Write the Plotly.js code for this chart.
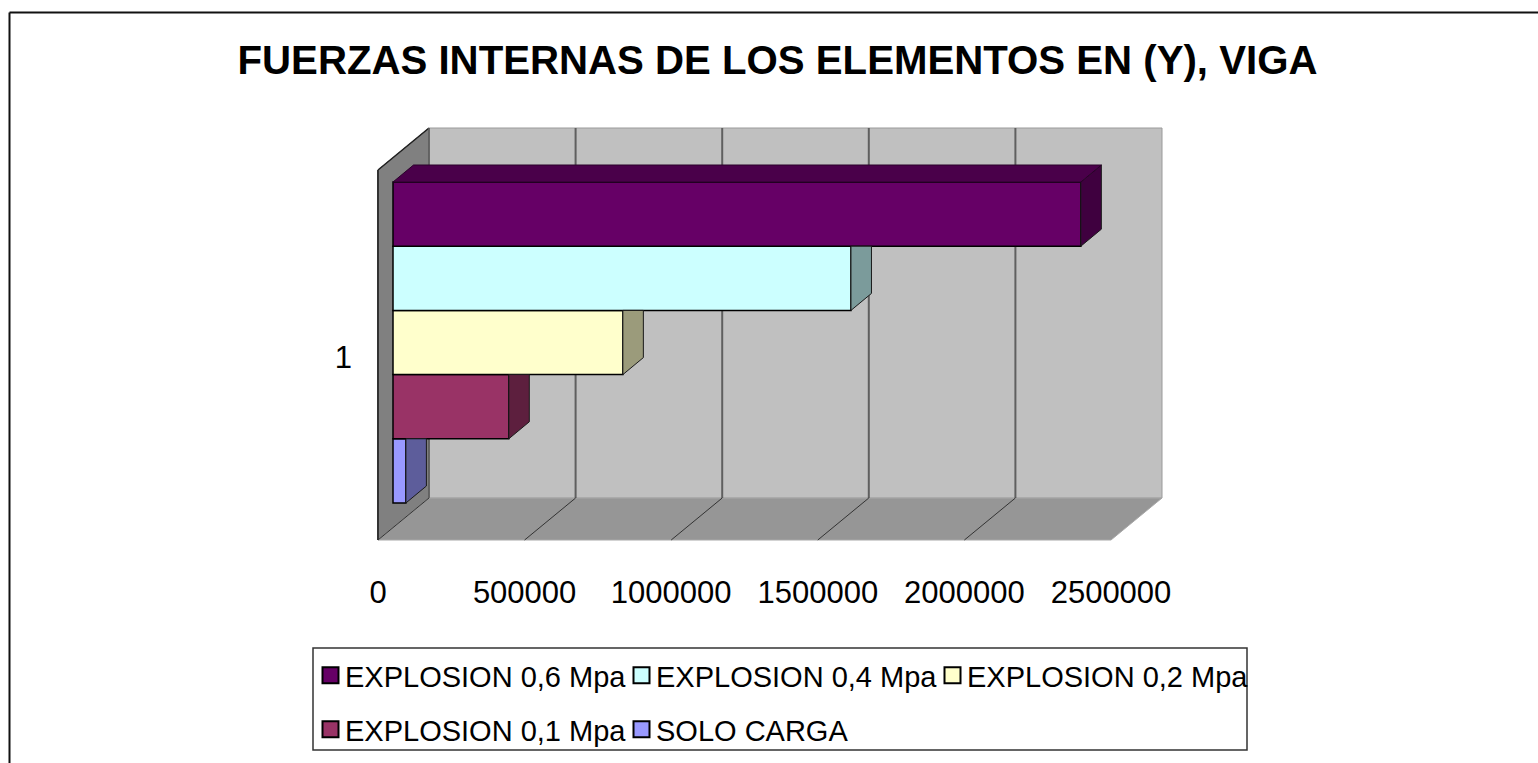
<!DOCTYPE html>
<html><head><meta charset="utf-8">
<script src="https://cdn.plot.ly/plotly-3.0.1.min.js"></script>
<style>html,body{margin:0;padding:0;background:#fff;overflow:hidden}#c{width:1538px;height:763px}</style>
</head><body><div id="c"></div>
<script>
const chartTitle = "FUERZAS INTERNAS DE LOS ELEMENTOS EN (Y), VIGA";
const categories = [1];
const seriesNames = ["EXPLOSION 0,6 Mpa","EXPLOSION 0,4 Mpa","EXPLOSION 0,2 Mpa","EXPLOSION 0,1 Mpa","SOLO CARGA"];
const seriesValues = [2346000,1562000,784000,395000,44000];
const frontColors = ["#660066","#CCFFFF","#FFFFCC","#993366","#9999FF"];
const sideColors = ["#3F003F","#7B9B9B","#9B9B7B","#5D1F3E","#5D5D9B"];
const topColor = "#4A004A";
const tickValues = [0,500000,1000000,1500000,2000000,2500000];

const W=1538,H=763;
const pxPerValue=146.6/500000;
// front-plane (axis) scale
const X0=378, wallTop=170, wallBottom=540, labelCentre=357.5;
const wallUnit=wallBottom-wallTop;
const xRange=[(0-X0)/pxPerValue,(W-X0)/pxPerValue];
const yOf=p=>categories[0]-(p-labelCentre)/wallUnit;
const yRange=[yOf(H),yOf(0)];
const depthXv=51/pxPerValue, depthYv=42/wallUnit;
// bar-plane scale
const barX0=393, barsTop=182, barsBottom=503;
const barUnit=barsBottom-barsTop, barCentre=(barsTop+barsBottom)/2;
const x2Range=[(0-barX0)/pxPerValue,(W-barX0)/pxPerValue];
const y2Of=p=>categories[0]-(p-barCentre)/barUnit;
const y2Range=[y2Of(H),y2Of(0)];
const barDx=20.5/pxPerValue, barDy=17/barUnit;

const traces=[];
const poly=(xs,ys,fill,line,ax)=>({type:'scatter',mode:'lines',x:xs,y:ys,fill:'toself',fillcolor:fill,
  line:{color:line.c,width:line.w},showlegend:false,hoverinfo:'skip',xaxis:ax[0],yaxis:ax[1]});
const seg=(xs,ys,c,w)=>({type:'scatter',mode:'lines',x:xs,y:ys,line:{color:c,width:w},showlegend:false,hoverinfo:'skip',xaxis:'x',yaxis:'y'});

const vMax=tickValues[tickValues.length-1], yLo=yOf(wallBottom), yHi=yOf(wallTop);
// back wall
traces.push(poly([depthXv,vMax+depthXv,vMax+depthXv,depthXv,depthXv],[yHi+depthYv,yHi+depthYv,yLo+depthYv,yLo+depthYv,yHi+depthYv],'#C0C0C0',{c:'#9a9a9a',w:1},['x','y']));
// left wall
traces.push(poly([0,depthXv,depthXv,0,0],[yHi,yHi+depthYv,yLo+depthYv,yLo,yHi],'#808080',{c:'#505050',w:1},['x','y']));
// floor
traces.push(poly([0,depthXv,vMax+depthXv,vMax,0],[yLo,yLo+depthYv,yLo+depthYv,yLo,yLo],'#969696',{c:'#a8a8a8',w:1},['x','y']));
// grid lines
tickValues.forEach((t,i)=>{
  if(i>0&&i<tickValues.length-1) traces.push(seg([t+depthXv,t+depthXv],[yHi+depthYv,yLo+depthYv],'#5f5f5f',2));
  if(i<tickValues.length-1) traces.push(seg([t,t+depthXv],[yLo,yLo+depthYv],'#333333',1));
});
traces.push(seg([0,depthXv],[yHi,yHi+depthYv],'#222222',1.5));
traces.push(seg([0,0],[yHi,yLo],'#333333',2));
traces.push(seg([depthXv,depthXv],[yHi+depthYv,yLo+depthYv],'#5f5f5f',1.5));
// category-axis tick carrier
traces.push({type:'scatter',mode:'none',x:[0],y:categories,showlegend:false,hoverinfo:'skip',xaxis:'x',yaxis:'y'});

// bars, bottom one first; each entry has its own legend so the rows line up like the reference
const n=seriesValues.length, barH=1/n;
const legendIds=['legend','legend2','legend3','legend4','legend5'];
for(let i=n-1;i>=0;i--){
  traces.push({type:'bar',orientation:'h',name:seriesNames[i],x:[seriesValues[i]],y:categories,
    marker:{color:frontColors[i],line:{color:'#000000',width:1.5}},xaxis:'x2',yaxis:'y2',
    legend:legendIds[i],hoverinfo:'x+name'});
}
// side and top faces, from the same values
for(let i=n-1;i>=0;i--){
  const v=seriesValues[i];
  const yTop=categories[0]+0.5-i*barH, yBot=yTop-barH;
  const upTop=i===0?yTop+barDy:yTop;
  traces.push(poly([v,v+barDx,v+barDx,v,v],[yTop,upTop,yBot+barDy,yBot,yTop],sideColors[i],{c:'#1a1a1a',w:1},['x2','y2']));
  if(i===0) traces.push(poly([0,barDx,v+barDx,v,0],[yTop,yTop+barDy,yTop+barDy,yTop,yTop],topColor,{c:'#2a002a',w:1},['x2','y2']));
}

const hiddenAxis={showgrid:false,zeroline:false,showline:false,ticks:'',showticklabels:false,fixedrange:true};
const legendAt=(px,py)=>({x:px/W,y:1-py/H,orientation:'h',xanchor:'left',yanchor:'top',bgcolor:'rgba(0,0,0,0)',borderwidth:0,
  font:{family:'Liberation Sans',size:29,color:'#000'}});
const layout={
  width:W,height:H,margin:{l:0,r:0,t:0,b:0,autoexpand:false},paper_bgcolor:'#fff',plot_bgcolor:'rgba(0,0,0,0)',
  showlegend:true,barmode:'group',bargap:0,bargroupgap:0,
  title:{text:chartTitle,x:777.5/W,xanchor:'center',y:1-60/H,yanchor:'middle',font:{family:'Liberation Sans',size:40.2,color:'#000',weight:'bold'}},
  xaxis:{range:xRange,anchor:'free',position:1-571/H,tickmode:'array',tickvals:tickValues,ticktext:tickValues.map(String),
    showgrid:false,zeroline:false,showline:false,ticks:'',tickfont:{family:'Liberation Sans',size:31,color:'#000'},fixedrange:true},
  yaxis:{range:yRange,anchor:'free',position:352/W,tickmode:'array',tickvals:categories,ticktext:categories.map(String),
    showgrid:false,zeroline:false,showline:false,ticks:'',tickfont:{family:'Liberation Sans',size:31,color:'#000'},fixedrange:true},
  xaxis2:Object.assign({range:x2Range,overlaying:'x'},hiddenAxis),
  yaxis2:Object.assign({range:y2Range,overlaying:'y'},hiddenAxis),
  legend:legendAt(305,650),
  legend2:legendAt(616,650),
  legend3:legendAt(927,650),
  legend4:legendAt(305,704),
  legend5:legendAt(616,704),
  shapes:[
    {type:'line',xref:'paper',yref:'paper',x0:9.5/W,x1:1,y0:1-12.5/H,y1:1-12.5/H,line:{color:'#111',width:2}},
    {type:'line',xref:'paper',yref:'paper',x0:9.5/W,x1:9.5/W,y0:0,y1:1-12.5/H,line:{color:'#111',width:2}},
    {type:'rect',xref:'paper',yref:'paper',x0:313/W,x1:1247/W,y0:1-750/H,y1:1-648/H,line:{color:'#333',width:1.5},fillcolor:'#fff',layer:'below'}
  ]
};
function enlargeKeys(gd){
  // the reference's legend keys are a little larger than Plotly's fixed bar key
  gd.querySelectorAll('.legendpoints path').forEach(p=>{
    p.setAttribute('d','M13.5,8H-2.5V-8H13.5Z');
    p.style.strokeWidth='2px';
  });
}
Plotly.newPlot('c',traces,layout,{staticPlot:true,displayModeBar:false}).then(gd=>{
  enlargeKeys(gd);
  gd.on('plotly_afterplot',()=>enlargeKeys(gd));
  setTimeout(()=>enlargeKeys(gd),30);
});
</script></body></html>
